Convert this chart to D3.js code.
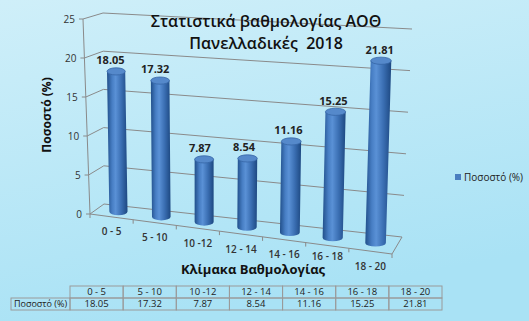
<!DOCTYPE html>
<html>
<head>
<meta charset="utf-8">
<script src="https://cdn.jsdelivr.net/npm/d3@7"></script>
<style>
  body { margin: 0; }
  text { font-family: "Open Sans", "Noto Sans", sans-serif; white-space: pre; }
</style>
</head>
<body>
<div id="chart"></div>
<script>
// data
const categories = ["0 - 5", "5 - 10", "10 -12", "12 - 14", "14 - 16", "16 - 18", "18 - 20"];
const values = [18.05, 17.32, 7.87, 8.54, 11.16, 15.25, 21.81];
const yTicks = [0, 5, 10, 15, 20, 25];
const seriesName = "Ποσοστό (%)";
const titleLines = ["Στατιστικά βαθμολογίας ΑΟΘ", "Πανελλαδικές  2018"];
const xTitle = "Κλίμακα Βαθμολογίας";
const yTitle = "Ποσοστό (%)";

const width = 529, height = 321;

const svg = d3.select("#chart")
  .append("svg")
    .attr("width", width)
    .attr("height", height);

const defs = svg.append("defs");

// background
const bg = defs.append("linearGradient").attr("id", "bg")
  .attr("x1", 0).attr("y1", 0).attr("x2", 0.3).attr("y2", 1);
bg.append("stop").attr("offset", "0%").attr("stop-color", "#cfeff9");
bg.append("stop").attr("offset", "100%").attr("stop-color", "#a9e2f5");
svg.append("rect").attr("width", width).attr("height", height).attr("fill", "url(#bg)");

// cylinder shading
const cyl = defs.append("linearGradient").attr("id", "cyl")
  .attr("x1", 0).attr("y1", 0).attr("x2", 1).attr("y2", 0);
[["0%", "#214f8a"], ["25%", "#477ec4"], ["42%", "#5a91d6"], ["70%", "#3a6eb2"], ["100%", "#1d4881"]]
  .forEach(s => cyl.append("stop").attr("offset", s[0]).attr("stop-color", s[1]));

// 3d box corners (screen), u = across, v = height, w = depth (0 front, 1 back)
const FL0 = [90, 214], FR0 = [392, 254], BL0 = [104, 204], BR0 = [402, 237];
const FL1 = [83, 19], FR1 = [396, 42], BL1 = [103, 13], BR1 = [412, 29];

const lerp = (a, b, t) => [a[0] + (b[0] - a[0]) * t, a[1] + (b[1] - a[1]) * t];
function proj(u, v, w) {
  const front = lerp(lerp(FL0, FR0, u), lerp(FL1, FR1, u), v);
  const back = lerp(lerp(BL0, BR0, u), lerp(BL1, BR1, u), v);
  return lerp(front, back, w);
}

// scales
const x = d3.scaleBand().domain(categories).range([0, 1]);
const y = d3.scaleLinear().domain([0, 25]).range([0, 1]);

const gridColor = "#8a8a8a";

// gridlines on side + back wall
svg.append("g").selectAll("path")
  .data(yTicks)
  .join("path")
    .attr("d", t => {
      const a = proj(0, y(t), 0), b = proj(0, y(t), 1), c = proj(1, y(t), 1);
      return `M${a[0] - 4},${a[1]}L${a[0]},${a[1]}L${b[0]},${b[1]}L${c[0]},${c[1]}`;
    })
    .attr("fill", "none")
    .attr("stroke", gridColor)
    .attr("stroke-width", 1);

// floor edges and y axis
const p00 = proj(0, 0, 0), p10 = proj(1, 0, 0), p11 = proj(1, 0, 1), p01 = proj(0, 1, 0);
svg.append("path")
  .attr("d", `M${p01[0]},${p01[1]}L${p00[0]},${p00[1]}L${p10[0]},${p10[1]}L${p11[0]},${p11[1]}`)
  .attr("fill", "none")
  .attr("stroke", gridColor);

// x ticks
svg.append("g").selectAll("line")
  .data(d3.range(categories.length + 1))
  .join("line")
    .attr("x1", i => proj(i / categories.length, 0, 0)[0])
    .attr("x2", i => proj(i / categories.length, 0, 0)[0])
    .attr("y1", i => proj(i / categories.length, 0, 0)[1])
    .attr("y2", i => proj(i / categories.length, 0, 0)[1] + 4)
    .attr("stroke", gridColor);

// y tick labels
svg.append("g").selectAll("text")
  .data(yTicks)
  .join("text")
    .attr("x", t => proj(0, y(t), 0)[0] - 8)
    .attr("y", t => proj(0, y(t), 0)[1])
    .attr("dy", "0.35em")
    .attr("text-anchor", "end")
    .attr("font-size", 10)
    .attr("fill", "#333")
    .text(t => t);

// category labels
svg.append("g").selectAll("text")
  .data(categories)
  .join("text")
    .attr("x", c => proj(x(c) + x.bandwidth() / 2, 0, 0)[0])
    .attr("y", c => proj(x(c) + x.bandwidth() / 2, 0, 0)[1] + (c === "16 - 18" ? 11 : 15))
    .attr("dy", "0.35em")
    .attr("text-anchor", "middle")
    .attr("font-size", 10)
    .attr("font-weight", "600")
    .attr("fill", "#333")
    .text(c => c);

// bars as cylinders
const bars = categories.map((c, i) => {
  const u = x(c) + x.bandwidth() / 2;
  return { c, v: values[i], u, b: proj(u, 0, 0.5), t: proj(u, y(values[i]), 0.5), rx: 9 + 1.4 * u, ry: 3.6 };
});

const barG = svg.append("g").selectAll("g").data(bars).join("g");
barG.append("path")
  .attr("d", d => `M${d.b[0] - d.rx},${d.b[1]}L${d.t[0] - d.rx},${d.t[1]}L${d.t[0] + d.rx},${d.t[1]}` +
    `L${d.b[0] + d.rx},${d.b[1]}A${d.rx},${d.ry} 0 0 1 ${d.b[0] - d.rx},${d.b[1]}Z`)
  .attr("fill", "url(#cyl)");
barG.append("ellipse")
  .attr("cx", d => d.t[0])
  .attr("cy", d => d.t[1])
  .attr("rx", d => d.rx)
  .attr("ry", d => d.ry)
  .attr("fill", "#5589cb")
  .attr("stroke", "#3666a6")
  .attr("stroke-width", 0.8);

// data labels
svg.append("g").selectAll("text")
  .data(bars)
  .join("text")
    .attr("x", d => d.t[0] - 6 + 5 * d.u)
    .attr("y", d => d.t[1] - 11)
    .attr("dy", "0.35em")
    .attr("text-anchor", "middle")
    .attr("font-size", 11)
    .attr("font-weight", "bold")
    .attr("fill", "#222")
    .text(d => d.v.toFixed(2));

// titles
svg.append("g").selectAll("text")
  .data(titleLines)
  .join("text")
    .attr("x", 266)
    .attr("y", (d, i) => 27 + i * 22)
    .attr("text-anchor", "middle")
    .attr("font-size", 16)
    .attr("font-weight", "600")
    .attr("fill", "#111")
    .text(d => d);

svg.append("text")
  .attr("x", 253)
  .attr("y", 274)
  .attr("text-anchor", "middle")
  .attr("font-size", 13)
  .attr("font-weight", "bold")
  .attr("fill", "#111")
  .text(xTitle);

svg.append("text")
  .attr("transform", "translate(51,115) rotate(-90)")
  .attr("text-anchor", "middle")
  .attr("font-size", 12)
  .attr("font-weight", "bold")
  .attr("fill", "#111")
  .text(yTitle);

// legend
svg.append("rect")
  .attr("x", 455).attr("y", 174).attr("width", 6).attr("height", 6)
  .attr("fill", "#4a7ec0");
svg.append("text")
  .attr("x", 464).attr("y", 180.5)
  .attr("font-size", 10)
  .attr("fill", "#222")
  .text(seriesName);

// data table
const tx = d3.scaleBand().domain(categories).range([70, 442]);
const rowTop = 286, rowH = 12;
const table = svg.append("g")
  .attr("fill", "none")
  .attr("stroke", "#9a9a9a")
  .attr("stroke-width", 1);
categories.forEach(c => {
  table.append("rect").attr("x", tx(c)).attr("y", rowTop).attr("width", tx.bandwidth()).attr("height", rowH);
  table.append("rect").attr("x", tx(c)).attr("y", rowTop + rowH).attr("width", tx.bandwidth()).attr("height", rowH);
});
table.append("rect").attr("x", 11).attr("y", rowTop + rowH).attr("width", 59).attr("height", rowH);

const tt = svg.append("g")
  .attr("font-size", 9.5)
  .attr("fill", "#222")
  .attr("text-anchor", "middle");
tt.selectAll(".h")
  .data(categories)
  .join("text")
    .attr("x", c => tx(c) + tx.bandwidth() / 2)
    .attr("y", rowTop + rowH / 2)
    .attr("dy", "0.35em")
    .text(c => c);
tt.selectAll(".v")
  .data(values)
  .join("text")
    .attr("x", (v, i) => tx(categories[i]) + tx.bandwidth() / 2)
    .attr("y", rowTop + rowH * 1.5)
    .attr("dy", "0.35em")
    .text(v => v.toFixed(2));
tt.append("text")
  .attr("x", 40.5)
  .attr("y", rowTop + rowH * 1.5)
  .attr("dy", "0.35em")
  .attr("font-size", 9)
  .text(seriesName);
</script>
</body>
</html>
